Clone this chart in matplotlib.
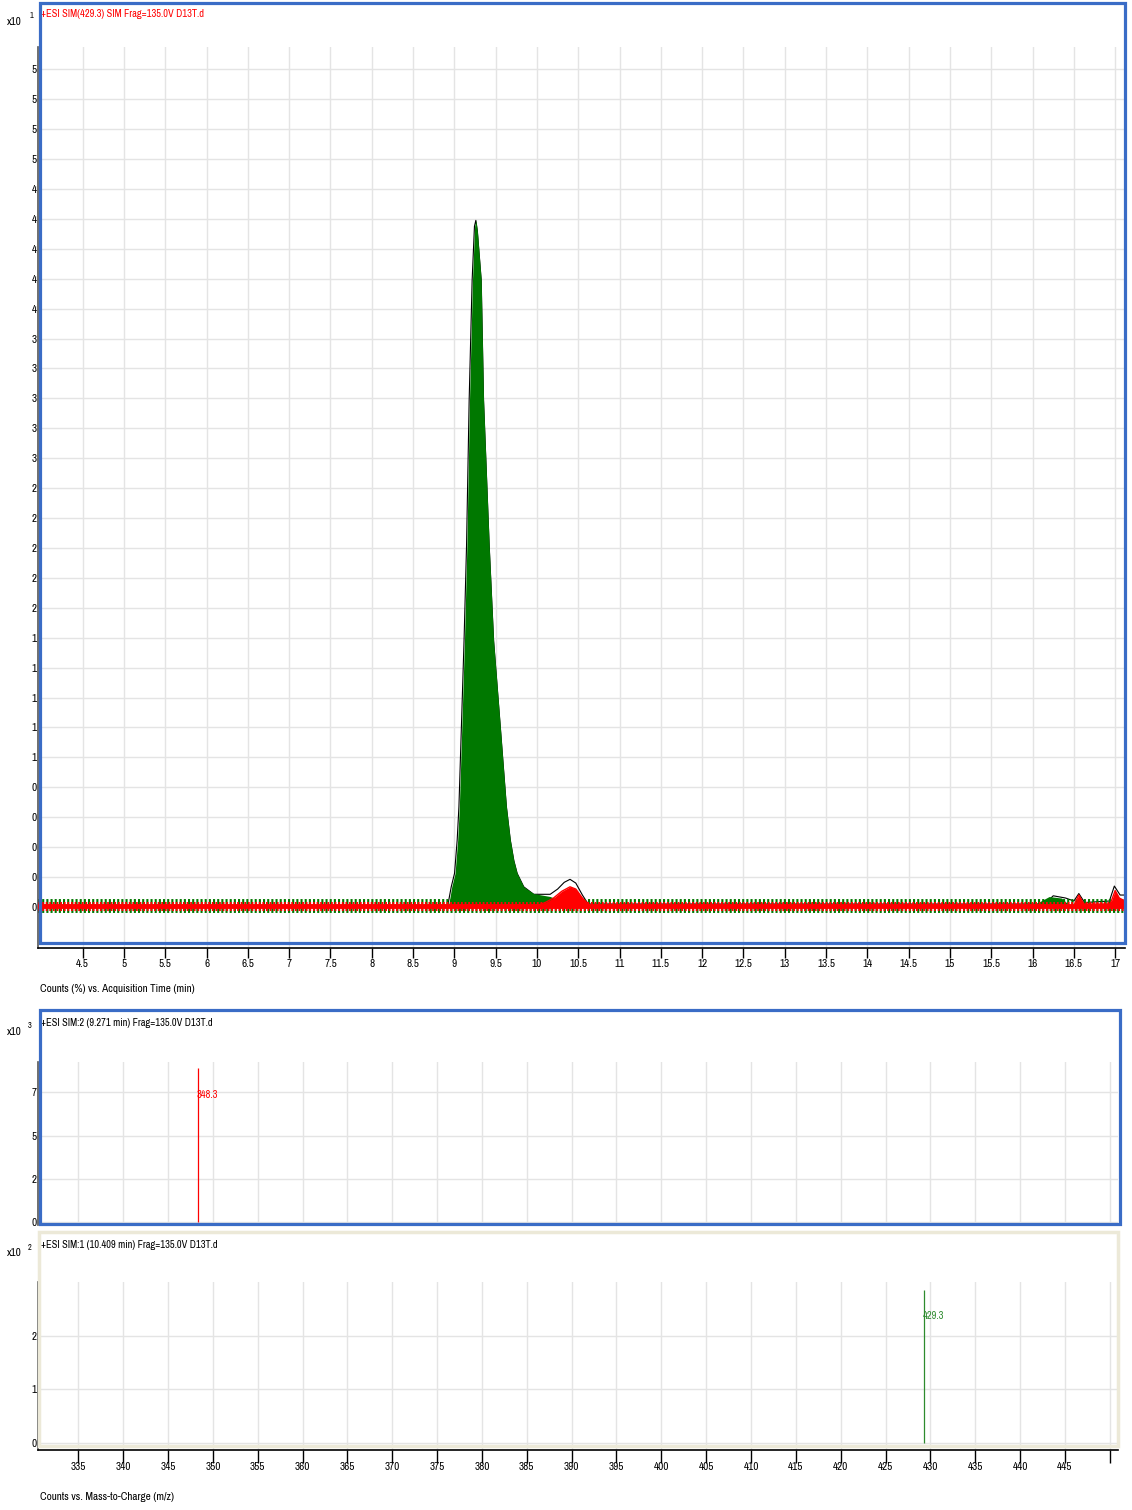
import numpy as np
import matplotlib
matplotlib.use("Agg")
import matplotlib.pyplot as plt
from matplotlib.patches import Rectangle
from matplotlib import font_manager

# ---------------- data ----------------
# chromatogram (counts %, x10^1) vs acquisition time (min)
green_t = [3.96, 8.93, 8.968, 9.008, 9.04, 9.06, 9.09, 9.122, 9.151, 9.183, 9.219, 9.245,
           9.26, 9.278, 9.325, 9.353, 9.422, 9.475, 9.556, 9.63, 9.677, 9.72, 9.76, 9.84,
           9.96, 10.16, 10.3, 10.6, 16.0, 16.1, 16.2, 16.35, 16.45, 17.12]
green_v = [0.01, 0.01, 0.135, 0.225, 0.448, 0.67, 1.205, 1.78, 2.41, 3.39, 4.19, 4.55,
           4.59, 4.52, 4.19, 3.39, 2.41, 1.78, 1.205, 0.67, 0.448, 0.31, 0.225, 0.135,
           0.09, 0.07, 0.04, 0.02, 0.01, 0.04, 0.07, 0.06, 0.01, 0.01]

tic_t = [3.96, 8.92, 8.962, 9.002, 9.034, 9.055, 9.085, 9.117, 9.147, 9.179, 9.215, 9.243,
         9.26, 9.278, 9.325, 9.353, 9.422, 9.475, 9.556, 9.63, 9.677, 9.72, 9.76, 9.84,
         9.96, 10.16, 10.25, 10.33, 10.40, 10.47, 10.55, 10.62, 16.15, 16.25, 16.4, 16.5,
         16.56, 16.63, 16.93, 16.99, 17.06, 17.12]
tic_v = [0.01, 0.01, 0.135, 0.225, 0.448, 0.67, 1.205, 1.78, 2.41, 3.39, 4.19, 4.55,
         4.59, 4.52, 4.19, 3.39, 2.41, 1.78, 1.205, 0.67, 0.448, 0.31, 0.225, 0.135,
         0.085, 0.085, 0.12, 0.165, 0.185, 0.16, 0.08, 0.02, 0.02, 0.075, 0.06, 0.04,
         0.09, 0.03, 0.04, 0.14, 0.08, 0.08]

red_t = [3.96, 10.0, 10.1, 10.2, 10.3, 10.4, 10.47, 10.55, 10.62, 10.66, 16.5, 16.56,
         16.62, 16.94, 17.0, 17.05, 17.12]
red_v = [0.01, 0.01, 0.03, 0.06, 0.105, 0.135, 0.12, 0.06, 0.02, 0.01, 0.01, 0.08,
         0.02, 0.02, 0.11, 0.06, 0.04]
baseline_level = 0.01

time_ticks = [4.5, 5, 5.5, 6, 6.5, 7, 7.5, 8, 8.5, 9, 9.5, 10, 10.5, 11, 11.5, 12,
              12.5, 13, 13.5, 14, 14.5, 15, 15.5, 16, 16.5, 17]
time_ticklabels = ["4.5", "5", "5.5", "6", "6.5", "7", "7.5", "8", "8.5", "9", "9.5",
                   "10", "10.5", "11", "11.5", "12", "12.5", "13", "13.5", "14", "14.5",
                   "15", "15.5", "16", "16.5", "17"]
chrom_yticks = [0.0, 0.2, 0.4, 0.6, 0.8, 1.0, 1.2, 1.4, 1.6, 1.8, 2.0, 2.2, 2.4, 2.6, 2.8,
                3.0, 3.2, 3.4, 3.6, 3.8, 4.0, 4.2, 4.4, 4.6, 4.8, 5.0, 5.2, 5.4, 5.6]
chrom_yticklabels = ["0"] * 5 + ["1"] * 5 + ["2"] * 5 + ["3"] * 5 + ["4"] * 5 + ["5"] * 4

# spectra
sim2_mz = [348.3]
sim2_int = [8.9]        # x10^3
sim1_mz = [429.3]
sim1_int = [2.85]       # x10^2
mz_ticks = [335, 340, 345, 350, 355, 360, 365, 370, 375, 380, 385, 390, 395, 400, 405,
            410, 415, 420, 425, 430, 435, 440, 445, 450]
mz_ticklabels = ["335", "340", "345", "350", "355", "360", "365", "370", "375", "380",
                 "385", "390", "395", "400", "405", "410", "415", "420", "425", "430",
                 "435", "440", "445", ""]
sim2_yticks = [0, 2.5, 5, 7.5]
sim2_yticklabels = ["0", "2", "5", "7"]
sim1_yticks = [0, 1, 2]
sim1_yticklabels = ["0", "1", "2"]

titles = ["+ESI SIM(429.3) SIM Frag=135.0V D13T.d",
          "+ESI SIM:2 (9.271 min) Frag=135.0V D13T.d",
          "+ESI SIM:1 (10.409 min) Frag=135.0V D13T.d"]

# ---------------- fonts ----------------
def _plain(f):
    fn = f.fname.lower()
    return "bold" not in fn and "italic" not in fn and "oblique" not in fn


cond = None
for key in ("narrow", "condensed"):
    for f in font_manager.fontManager.ttflist:
        if _plain(f) and (key in f.name.lower() or key in f.fname.lower()):
            cond = f.fname
            break
    if cond:
        break
plt.rcParams["font.family"] = ["Liberation Sans", "DejaVu Sans"]


def fp(size):
    if cond:
        return font_manager.FontProperties(fname=cond, size=size)
    return font_manager.FontProperties(family=["Liberation Sans", "DejaVu Sans"],
                                       size=size * 0.9)


GREEN = "#007800"
RED = "#FF0000"
BLUE = "#3A6CC6"
BEIGE = "#ECE9D8"
GRID = "#E4E4E4"

W, H = 1132, 1510
fig = plt.figure(figsize=(W / 100, H / 100), dpi=100)


def rect(x0, y0, x1, y1):
    return [x0 / W, 1 - y1 / H, (x1 - x0) / W, (y1 - y0) / H]


def ftext(x, y, s, size, **kw):
    fig.text(x / W, 1 - y / H, s, fontproperties=fp(size), **kw)


def frame(x0, y0, x1, y1, color, lw):
    fig.add_artist(Rectangle((x0 / W, 1 - y1 / H), (x1 - x0) / W, (y1 - y0) / H,
                             transform=fig.transFigure, fill=False, ec=color, lw=lw,
                             zorder=10))


def style_axes(ax):
    for s in ["top", "right"]:
        ax.spines[s].set_visible(False)
    ax.spines["left"].set_color("#555555")
    ax.spines["left"].set_linewidth(1.2)
    ax.spines["bottom"].set_color("black")
    ax.spines["bottom"].set_linewidth(1.2)
    ax.tick_params(axis="y", length=0, pad=1)
    ax.grid(True, color=GRID, lw=1.0)
    ax.set_axisbelow(True)


def set_labels(ax, axis, ticks, labels, size):
    if axis == "x":
        ax.set_xticks(ticks)
        ax.set_xticklabels(labels)
        lbls = ax.get_xticklabels()
    else:
        ax.set_yticks(ticks)
        ax.set_yticklabels(labels)
        lbls = ax.get_yticklabels()
    for t in lbls:
        t.set_fontproperties(fp(size))


TICK = 8
TITLE = 7.5

# ---------------- main chromatogram ----------------
ax1 = fig.add_axes(rect(38, 47, 1125, 948))
style_axes(ax1)
ax1.set_xlim(3.959, 17.119)
ax1.set_ylim(-0.274, 5.749)
set_labels(ax1, "x", time_ticks, time_ticklabels, TICK)
set_labels(ax1, "y", chrom_yticks, chrom_yticklabels, TICK)
ax1.tick_params(axis="x", length=7, width=1, pad=1)
for t in ax1.get_yticklabels():
    t.set_verticalalignment("center_baseline")

ax1.plot(tic_t, tic_v, color="black", lw=0.8, zorder=2)
ax1.axhline(baseline_level, color=GREEN, lw=10, dashes=(0.15, 0.15), zorder=2.5)
ax1.fill_between(green_t, baseline_level, green_v, color=GREEN, lw=0, zorder=3)
ax1.fill_between(red_t, baseline_level, red_v, color=RED, lw=0, zorder=4)
ax1.plot(red_t, red_v, color=RED, lw=1.0, zorder=4)
ax1.axhline(baseline_level, color=RED, lw=6.5, dashes=(0.2, 0.2), zorder=5)
ax1.axhline(baseline_level, color=RED, lw=3.5, zorder=5)

frame(40, 3, 1125, 943, BLUE, 2.3)
ftext(22, 22, "x10", TICK, ha="right", va="center")
ftext(31, 16, "1", 6, ha="center", va="center")
ftext(41, 14, titles[0], TITLE, ha="left", va="center", color=RED)
ftext(40, 989, "Counts (%) vs. Acquisition Time (min)", TICK, ha="left", va="center")

# ---------------- SIM:2 spectrum ----------------
ax2 = fig.add_axes(rect(38, 1062, 1118, 1225))
style_axes(ax2)
ax2.set_xlim(330.51, 450.91)
ax2.set_ylim(-0.17, 9.26)
ax2.set_xticks(mz_ticks)
ax2.set_xticklabels([])
ax2.tick_params(axis="x", length=0)
ax2.spines["bottom"].set_visible(False)
set_labels(ax2, "y", sim2_yticks, sim2_yticklabels, TICK)
ax2.vlines(sim2_mz, 0, sim2_int, color=RED, lw=0.9, zorder=3)
for mz, it in zip(sim2_mz, sim2_int):
    ax2.annotate(f"{mz:.1f}", (mz, it), xytext=(-1, -19), textcoords="offset points",
                 ha="left", va="center", fontproperties=fp(TITLE), color=RED)
frame(40, 1010, 1120, 1224, BLUE, 2.3)
ftext(22, 1032, "x10", TICK, ha="right", va="center")
ftext(30, 1025, "3", 6, ha="center", va="center")
ftext(41, 1023, titles[1], TITLE, ha="left", va="center")

# ---------------- SIM:1 spectrum ----------------
ax3 = fig.add_axes(rect(38, 1282, 1118, 1450))
style_axes(ax3)
ax3.set_xlim(330.51, 450.91)
ax3.set_ylim(-0.13, 3.0)
set_labels(ax3, "x", mz_ticks, mz_ticklabels, TICK)
ax3.tick_params(axis="x", length=9, width=1, pad=0)
set_labels(ax3, "y", sim1_yticks, sim1_yticklabels, TICK)
ax3.vlines(sim1_mz, 0, sim1_int, color="#2E8B2E", lw=0.9, zorder=3)
for mz, it in zip(sim1_mz, sim1_int):
    ax3.annotate(f"{mz:.1f}", (mz, it), xytext=(-1, -19), textcoords="offset points",
                 ha="left", va="center", fontproperties=fp(TITLE), color="#2E8B2E")
frame(39, 1232, 1118, 1446, BEIGE, 2.5)
ftext(22, 1253, "x10", TICK, ha="right", va="center")
ftext(30, 1248, "2", 6, ha="center", va="center")
ftext(41, 1245, titles[2], TITLE, ha="left", va="center")
ftext(40, 1497, "Counts vs. Mass-to-Charge (m/z)", TICK, ha="left", va="center")

fig.savefig("out.png", dpi=100, facecolor="white")
